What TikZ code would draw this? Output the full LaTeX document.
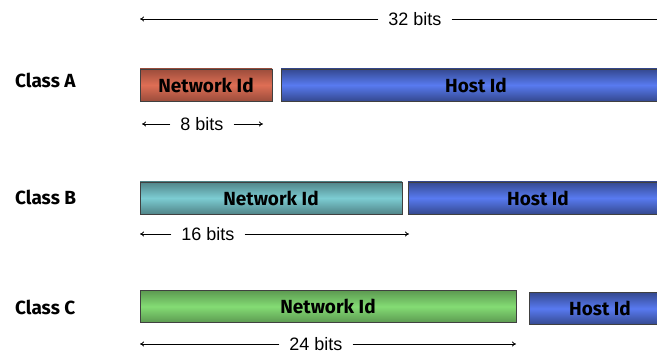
\documentclass[tikz,border=0pt]{standalone}
\usepackage{fontspec}
\setmainfont{Liberation Sans}
\newfontfamily\labelfont{Fira Sans}
\usetikzlibrary{arrows.meta}

\definecolor{netred}{HTML}{DE6E55}
\definecolor{netcyan}{HTML}{7CCCD2}
\definecolor{netgreen}{HTML}{84DC74}
\definecolor{hostblue}{HTML}{587AF0}

\tikzset{
  field/.style = {draw = black!75, line width = 0.8, minimum height = 32, inner sep = 0,
                  font = \labelfont\bfseries\fontsize{19}{19}\selectfont},
  netA/.style = {field, top color = netred!70!black, bottom color = netred!70!black, middle color = netred},
  netB/.style = {field, top color = netcyan!65!black, bottom color = netcyan!65!black, middle color = netcyan},
  netC/.style = {field, top color = netgreen!70!black, bottom color = netgreen!70!black, middle color = netgreen},
  host/.style = {field, top color = hostblue!60!black, bottom color = hostblue!60!black, middle color = hostblue},
  classname/.style = {anchor = west, inner sep = 0, font = \labelfont\bfseries\fontsize{19}{19}\selectfont},
  bits/.style = {inner xsep = 10, inner ysep = 2, font = \fontsize{18}{18}\selectfont},
  span/.style = {line width = 0.8, -{To[length = 4, width = 5]}}
}

\begin{document}
\begin{tikzpicture}[x = 1pt, y = 1pt]
\useasboundingbox (0, 0) rectangle (657, 354);

% 32 bits
\node [bits] (b32) at (415, 335) {32 bits};
\coordinate (b32l) at (140, 335);
\coordinate (b32r) at (675, 335);
\draw [span] (b32.west) -- (b32l);
\draw [span] (b32.east) -- (b32r);

% class A
\node [classname] (ca) at (15, 274) {Class A};
\node [netA, minimum width = 132] (naA) at (206, 269) {Network Id};
\node [host, minimum width = 390] (hoA) at (476, 269) {Host Id};

\node [bits] (b8) at (202, 230) {8 bits};
\coordinate (b8l) at (142, 230);
\coordinate (b8r) at (263, 230);
\draw [span] (b8.west) -- (b8l);
\draw [span] (b8.east) -- (b8r);

% class B
\node [classname] (cb) at (15, 157) {Class B};
\node [netB, minimum width = 262] (naB) at (271, 156) {Network Id};
\node [host, minimum width = 260] (hoB) at (538, 156) {Host Id};

\node [bits] (b16) at (208, 120) {16 bits};
\coordinate (b16l) at (140, 120);
\coordinate (b16r) at (409, 120);
\draw [span] (b16.west) -- (b16l);
\draw [span] (b16.east) -- (b16r);

% class C
\node [classname] (cc) at (15, 47) {Class C};
\node [netC, minimum width = 376] (naC) at (328, 47.5) {Network Id};
\node [host, minimum width = 142] (hoC) at (600, 45.5) {Host Id};

\node [bits] (b24) at (316, 10) {24 bits};
\coordinate (b24l) at (140, 10);
\coordinate (b24r) at (516, 10);
\draw [span] (b24.west) -- (b24l);
\draw [span] (b24.east) -- (b24r);
\end{tikzpicture}
\end{document}
